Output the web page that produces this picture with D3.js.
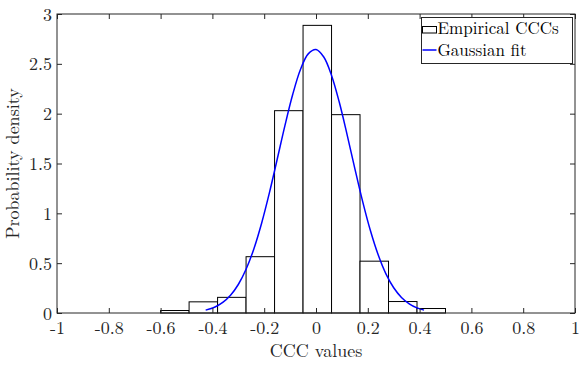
<!DOCTYPE html>
<html>
<head>
<meta charset="utf-8">
<script src="https://cdn.jsdelivr.net/npm/d3@7"></script>
<style>
    body { margin: 0; background: #fff; }
    svg { display: block; font-family: "Latin Modern Roman", "CMU Serif", "DejaVu Serif", serif; }
    .axis path { display: none; }
    .axis line { stroke: #262626; }
</style>
</head>
<body>
<div id="chart"></div>
<script>
// histogram bins (edges) and their densities
const binEdges = [-0.6, -0.49, -0.38, -0.27, -0.16, -0.05, 0.06, 0.17, 0.28, 0.39, 0.5];
const binDensity = [0.025, 0.112, 0.157, 0.565, 2.03, 2.886, 1.99, 0.52, 0.115, 0.045];

// gaussian fit
const fitX = [-0.426, -0.39, -0.36, -0.33, -0.3, -0.27, -0.24, -0.21, -0.18, -0.15, -0.12, -0.09, -0.06, -0.03, 0,
    0.03, 0.06, 0.09, 0.12, 0.15, 0.18, 0.21, 0.24, 0.27, 0.3, 0.33, 0.36, 0.39, 0.417];
const fitY = [0.029, 0.06, 0.106, 0.178, 0.286, 0.439, 0.643, 0.901, 1.205, 1.54, 1.88, 2.192, 2.443, 2.6, 2.644,
    2.569, 2.384, 2.114, 1.79, 1.449, 1.12, 0.827, 0.584, 0.393, 0.253, 0.156, 0.092, 0.051, 0.029];

const xTicks = [-1, -0.8, -0.6, -0.4, -0.2, 0, 0.2, 0.4, 0.6, 0.8, 1];
const yTicks = [0, 0.5, 1, 1.5, 2, 2.5, 3];

const margin = { top: 14, right: 4, bottom: 52, left: 57 };
const width = 579 - margin.left - margin.right;
const height = 365 - margin.top - margin.bottom;
const fontStack = "'Latin Modern Roman', 'CMU Serif', 'DejaVu Serif', serif";

const x = d3.scaleLinear().domain([-1, 1]).range([0, width]);
const y = d3.scaleLinear().domain([0, 3]).range([height, 0]);

const svgRoot = d3.select("#chart")
    .append("svg")
    .attr("width", 579)
    .attr("height", 365);

const svg = svgRoot.append("g")
    .attr("transform", `translate(${margin.left}, ${margin.top})`);

// bars
const bins = binDensity.map((d, i) => ({ x0: binEdges[i], x1: binEdges[i + 1], v: d }));

svg.selectAll(".bar")
    .data(bins)
    .enter()
    .append("rect")
    .attr("class", "bar")
    .attr("x", d => x(d.x0))
    .attr("width", d => x(d.x1) - x(d.x0))
    .attr("y", d => y(d.v))
    .attr("height", d => height - y(d.v))
    .attr("fill", "#fff")
    .attr("stroke", "#000")
    .attr("stroke-width", 1);

// fit line
const line = d3.line()
    .x(d => x(d[0]))
    .y(d => y(d[1]))
    .curve(d3.curveCatmullRom);

svg.append("path")
    .datum(fitX.map((d, i) => [d, fitY[i]]))
    .attr("fill", "none")
    .attr("stroke", "#0000ff")
    .attr("stroke-width", 1.5)
    .attr("d", line);

let tickText = (sel) => {
    sel.attr("font-family", null).attr("font-size", null);
    sel.selectAll("text")
        .style("font-family", fontStack)
        .style("font-size", "18px")
        .attr("fill", "#262626");
}

// axes, ticks pointing inwards like matlab
svg.append("g")
    .attr("class", "axis")
    .attr("transform", `translate(0, ${height})`)
    .call(d3.axisBottom(x).tickValues(xTicks).tickSizeInner(-5).tickSizeOuter(0).tickFormat(d => String(d)))
    .call(tickText)
    .selectAll("text")
    .attr("y", 21)
    .attr("dy", 0);

svg.append("g")
    .attr("class", "axis")
    .call(d3.axisTop(x).tickValues(xTicks).tickSizeInner(-5).tickSizeOuter(0).tickFormat(""));

svg.append("g")
    .attr("class", "axis")
    .call(d3.axisLeft(y).tickValues(yTicks).tickSizeInner(-5).tickSizeOuter(0).tickFormat(d => String(d)))
    .call(tickText)
    .selectAll("text")
    .attr("x", -5)
    .attr("dy", "0.34em");

svg.append("g")
    .attr("class", "axis")
    .attr("transform", `translate(${width}, 0)`)
    .call(d3.axisRight(y).tickValues(yTicks).tickSizeInner(-5).tickSizeOuter(0).tickFormat(""));

// box
svg.append("rect")
    .attr("width", width)
    .attr("height", height)
    .attr("fill", "none")
    .attr("stroke", "#262626")
    .attr("stroke-width", 1);

// axis labels
svg.append("text")
    .attr("x", width / 2)
    .attr("y", height + 44)
    .attr("text-anchor", "middle")
    .style("font-size", "18px")
    .attr("fill", "#262626")
    .text("CCC values");

svg.append("text")
    .attr("transform", `translate(${-38}, ${height / 2}) rotate(-90)`)
    .attr("text-anchor", "middle")
    .style("font-size", "18px")
    .attr("fill", "#262626")
    .text("Probability density");

// legend
const legend = svgRoot.append("g")
    .attr("transform", "translate(421.5, 17.5)");

legend.append("rect")
    .attr("width", 151)
    .attr("height", 46)
    .attr("fill", "#fff")
    .attr("stroke", "#262626")
    .attr("stroke-width", 1);

legend.append("rect")
    .attr("x", 1)
    .attr("y", 9)
    .attr("width", 14)
    .attr("height", 6.5)
    .attr("fill", "#fff")
    .attr("stroke", "#000");

legend.append("text")
    .attr("x", 16)
    .attr("y", 16)
    .style("font-size", "17px")
    .text("Empirical CCCs");

legend.append("line")
    .attr("x1", 1)
    .attr("x2", 15)
    .attr("y1", 32.5)
    .attr("y2", 32.5)
    .attr("stroke", "#0000ff")
    .attr("stroke-width", 1.5);

legend.append("text")
    .attr("x", 16)
    .attr("y", 38)
    .style("font-size", "17px")
    .text("Gaussian fit");
</script>
</body>
</html>
